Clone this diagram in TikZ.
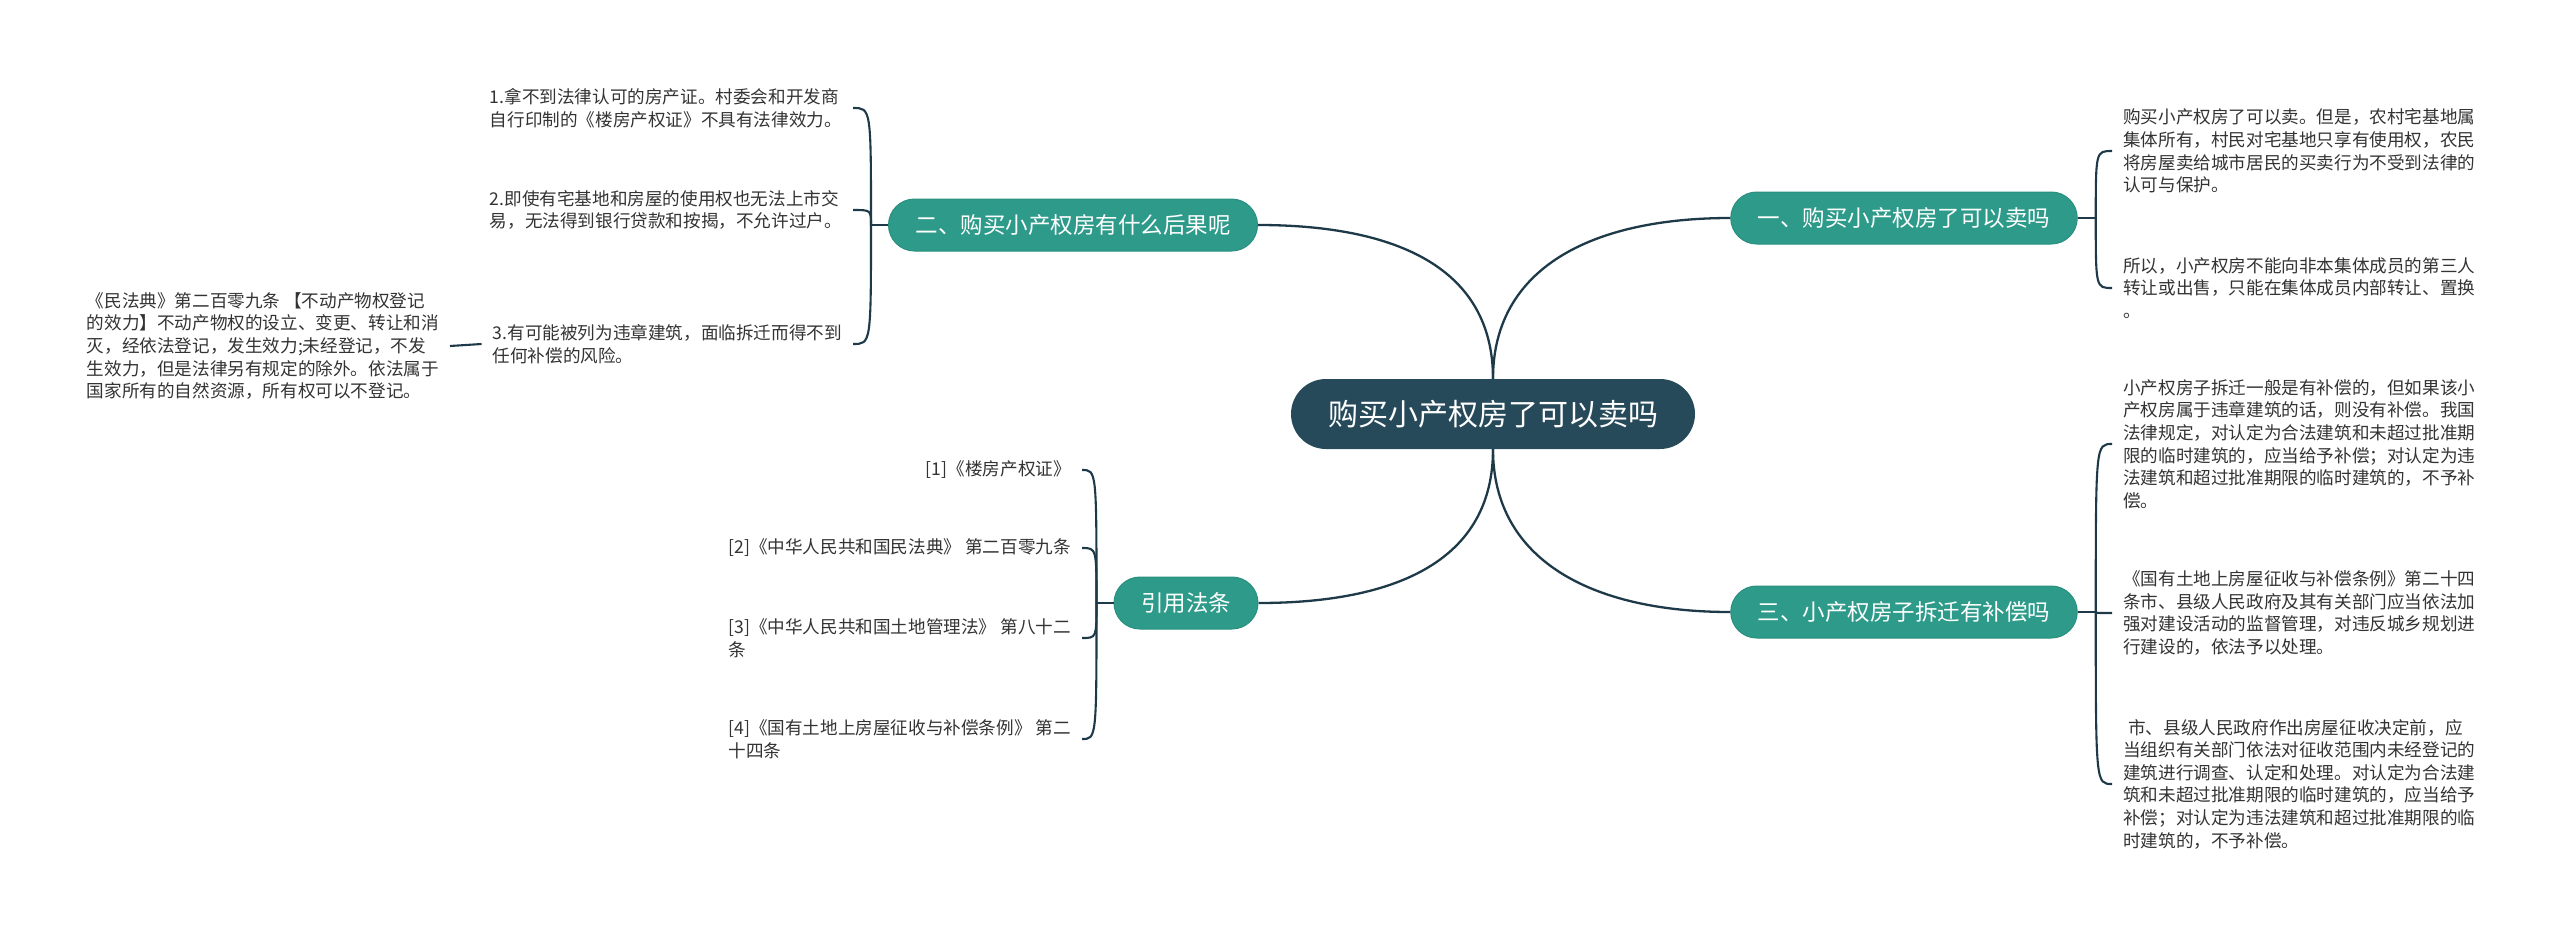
\documentclass[tikz,border=0pt]{standalone}
\usepackage{fontspec}
\setmainfont{Noto Sans CJK SC}
\definecolor{centralfill}{HTML}{274A5A}
\definecolor{branchfill}{HTML}{2E9B8A}
\definecolor{branchedge}{HTML}{2A8F7F}
\definecolor{linecol}{HTML}{1E3A48}
\definecolor{leaftext}{HTML}{333333}
\tikzset{
  central/.style={fill=centralfill, text=white, rounded corners=35pt, minimum width=404pt, minimum height=70pt, font=\fontsize{30}{36}\selectfont, inner sep=0pt},
  branch/.style={fill=branchfill, draw=branchedge, line width=1pt, text=white, rounded corners=26pt, minimum height=52pt, inner xsep=27pt, inner ysep=0pt, font=\fontsize{22.5}{27}\selectfont},
  leaf/.style={text=leaftext, align=left, inner xsep=11pt, inner ysep=4pt, font=\fontsize{17.6}{22.6}\selectfont},
  mainline/.style={draw=linecol, line width=2.3pt},
  brline/.style={draw=linecol, line width=2.1pt},
}
\begin{document}
\begin{tikzpicture}[x=1pt,y=-1pt]
\fill[white] (0,0) rectangle (2560,935);
\useasboundingbox (0,0) rectangle (2560,935);

% central and branches
\node[central] (c) at (1493,414) {购买小产权房了可以卖吗};
\node[branch] (b1) at (1904,218) {一、购买小产权房了可以卖吗};
\node[branch] (b2) at (1073,225) {二、购买小产权房有什么后果呢};
\node[branch] (b3) at (1904,612) {三、小产权房子拆迁有补偿吗};
\node[branch] (b4) at (1186,603) {引用法条};

% main connectors
\draw[mainline] (c.north) .. controls +(0,-110) and +(140,0) .. (b2.east);
\draw[mainline] (c.north) .. controls +(0,-110) and +(-140,0) .. (b1.west);
\draw[mainline] (c.south) .. controls +(0,110) and +(140,0) .. (b4.east);
\draw[mainline] (c.south) .. controls +(0,110) and +(-140,0) .. (b3.west);

% leaves of branch 二
\node[leaf, anchor=east] (l1) at (853,108) {1.拿不到法律认可的房产证。村委会和开发商\\自行印制的《楼房产权证》不具有法律效力。};
\node[leaf, anchor=east] (l2) at (853,210) {2.即使有宅基地和房屋的使用权也无法上市交\\易，无法得到银行贷款和按揭，不允许过户。};
\node[leaf, anchor=east] (l3) at (853,344) {3.有可能被列为违章建筑，面临拆迁而得不到\\任何补偿的风险。};
\node[leaf, anchor=east] (note) at (450,346) {《民法典》第二百零九条 【不动产物权登记\\的效力】不动产物权的设立、变更、转让和消\\灭，经依法登记，发生效力;未经登记，不发\\生效力，但是法律另有规定的除外。依法属于\\国家所有的自然资源，所有权可以不登记。};

\path (b2.west) ++(-17,0) coordinate (s2);
\draw[brline] (b2.west) -- (s2);
\draw[brline] (s2) .. controls (s2 |- l1.east) .. (l1.east);
\draw[brline] (s2) .. controls (s2 |- l2.east) .. (l2.east);
\draw[brline] (s2) .. controls (s2 |- l3.east) .. (l3.east);
\draw[brline] (l3.west) -- (note.east);

% leaves of 引用法条
\node[leaf, anchor=east] (r1) at (1082,470) {[1]《楼房产权证》};
\node[leaf, anchor=east] (r2) at (1082,548) {[2]《中华人民共和国民法典》 第二百零九条};
\node[leaf, anchor=east] (r3) at (1082,638) {[3]《中华人民共和国土地管理法》 第八十二\\条};
\node[leaf, anchor=east] (r4) at (1082,739) {[4]《国有土地上房屋征收与补偿条例》 第二\\十四条};

\path (b4.west) ++(-17,0) coordinate (s4);
\draw[brline] (b4.west) -- (s4);
\draw[brline] (s4) .. controls (s4 |- r1.east) .. (r1.east);
\draw[brline] (s4) .. controls (s4 |- r2.east) .. (r2.east);
\draw[brline] (s4) .. controls (s4 |- r3.east) .. (r3.east);
\draw[brline] (s4) .. controls (s4 |- r4.east) .. (r4.east);

% leaves of branch 一
\node[leaf, anchor=west] (a1) at (2112,151) {购买小产权房了可以卖。但是，农村宅基地属\\集体所有，村民对宅基地只享有使用权，农民\\将房屋卖给城市居民的买卖行为不受到法律的\\认可与保护。};
\node[leaf, anchor=west] (a2) at (2112,288) {所以，小产权房不能向非本集体成员的第三人\\转让或出售，只能在集体成员内部转让、置换\\。};

\path (b1.east) ++(18,0) coordinate (s1);
\draw[brline] (b1.east) -- (s1);
\draw[brline] (s1) .. controls (s1 |- a1.west) .. (a1.west);
\draw[brline] (s1) .. controls (s1 |- a2.west) .. (a2.west);

% leaves of branch 三
\node[leaf, anchor=west] (k1) at (2112,444) {小产权房子拆迁一般是有补偿的，但如果该小\\产权房属于违章建筑的话，则没有补偿。我国\\法律规定，对认定为合法建筑和未超过批准期\\限的临时建筑的，应当给予补偿；对认定为违\\法建筑和超过批准期限的临时建筑的，不予补\\偿。};
\node[leaf, anchor=west] (k2) at (2112,613) {《国有土地上房屋征收与补偿条例》第二十四\\条市、县级人民政府及其有关部门应当依法加\\强对建设活动的监督管理，对违反城乡规划进\\行建设的，依法予以处理。};
\node[leaf, anchor=west] (k3) at (2112,784) {\hspace*{5pt}市、县级人民政府作出房屋征收决定前，应\\当组织有关部门依法对征收范围内未经登记的\\建筑进行调查、认定和处理。对认定为合法建\\筑和未超过批准期限的临时建筑的，应当给予\\补偿；对认定为违法建筑和超过批准期限的临\\时建筑的，不予补偿。};

\path (b3.east) ++(18,0) coordinate (s3);
\draw[brline] (b3.east) -- (s3);
\draw[brline] (s3) .. controls (s3 |- k1.west) .. (k1.west);
\draw[brline] (s3) .. controls (s3 |- k2.west) .. (k2.west);
\draw[brline] (s3) .. controls (s3 |- k3.west) .. (k3.west);
\end{tikzpicture}
\end{document}
